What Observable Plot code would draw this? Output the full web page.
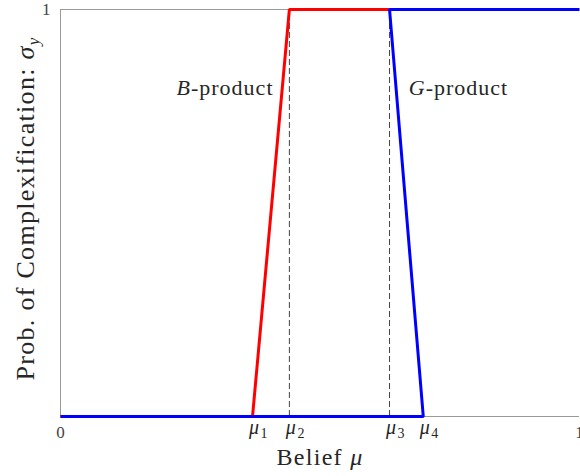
<!DOCTYPE html>
<html>
<head>
<meta charset="utf-8">
<script src="https://cdn.jsdelivr.net/npm/d3@7"></script>
<script src="https://cdn.jsdelivr.net/npm/@observablehq/plot@0.6"></script>
<style>
  html, body { margin: 0; padding: 0; background: white; overflow: hidden; }
</style>
</head>
<body>
<div id="chart"></div>
<script>
// ---- data ----
const muValues = [0.370, 0.441, 0.634, 0.699];
const muSubs = ["1", "2", "3", "4"];
const bProductX = [0, 0.370, 0.441, 0.634];
const bProductY = [0, 0, 1, 1];
const gProductX = [0, 0.699, 0.634, 1];
const gProductY = [0, 0, 1, 1];
const dashedAt = [0.441, 0.634];
const xTickValues = [0, 1];
const xTickLabels = ["0", "1"];
const yTickValues = [1];
const yTickLabels = ["1"];
const bLabel = "B-product";
const gLabel = "G-product";
const bLabelPos = [0.4104, 0.7887];
const gLabelPos = [0.671, 0.7887];
const xLabel = "Belief μ";
const yLabel = "Prob. of Complexification: σy";

const bData = bProductX.map((x, i) => ({x, y: bProductY[i]}));
const gData = gProductX.map((x, i) => ({x, y: gProductY[i]}));
const xTicks = xTickValues.map((v, i) => ({v, t: xTickLabels[i]}));
const yTicks = yTickValues.map((v, i) => ({v, t: yTickLabels[i]}));
const mus = muValues.map((v, i) => ({v, s: muSubs[i]}));

const font = "'Liberation Serif', serif";
const textColor = "#262626";
const axisGray = "#9a9a9a";

const chart = Plot.plot({
  width: 580,
  height: 476,
  marginLeft: 60,
  marginRight: 1,
  marginTop: 9,
  marginBottom: 60,
  x: {domain: [0, 1], axis: null},
  y: {domain: [0, 1], axis: null},
  style: {fontFamily: font, background: "white", overflow: "visible"},
  marks: [
    Plot.ruleX([0], {stroke: axisGray, strokeWidth: 1}),
    Plot.ruleY([0, 1], {stroke: axisGray, strokeWidth: 1}),
    Plot.ruleX(dashedAt, {y1: 0, y2: 1, stroke: "#444", strokeWidth: 1, strokeDasharray: "6,3"}),
    Plot.line(bData, {x: "x", y: "y", stroke: "#ff0000", strokeWidth: 3, strokeLinecap: "butt", strokeLinejoin: "miter"}),
    Plot.line(gData, {x: "x", y: "y", stroke: "#0000ff", strokeWidth: 3, strokeLinecap: "butt", strokeLinejoin: "miter"}),
    Plot.text(xTicks, {x: "v", y: 0, text: "t", dy: 21, lineAnchor: "bottom", fontSize: 17, fill: "#444"}),
    Plot.text(yTicks, {x: 0, y: "v", text: "t", dx: -10, lineAnchor: "middle", textAnchor: "end", fontSize: 17, fill: "#444"}),
    Plot.text(mus, {x: "v", y: 0, text: () => "μ", dx: 1.5, dy: 17, lineAnchor: "bottom", fontSize: 20, fontStyle: "italic", fill: textColor}),
    Plot.text(mus, {x: "v", y: 0, text: "s", dx: 8, dy: 21, lineAnchor: "bottom", textAnchor: "start", fontSize: 14, fill: textColor}),
    Plot.text([bLabel], {x: bLabelPos[0], y: bLabelPos[1], text: d => d, textAnchor: "end", lineAnchor: "bottom", fontSize: 22, fill: textColor, className: "series-label"}),
    Plot.text([gLabel], {x: gLabelPos[0], y: gLabelPos[1], text: d => d, textAnchor: "start", lineAnchor: "bottom", fontSize: 22, fill: textColor, className: "series-label"}),
    Plot.text([xLabel], {x: 0.5, y: 0, text: d => d, dy: 48, lineAnchor: "bottom", fontSize: 24, fill: textColor, className: "x-label"}),
    Plot.text([yLabel], {x: 0, y: 0.511, text: d => d, dx: -35, rotate: -90, lineAnchor: "middle", fontSize: 26, fill: textColor, className: "y-label"})
  ]
});

document.getElementById("chart").appendChild(chart);

// ---- rich text post-processing (italic math letters, subscripts) ----
const svg = d3.select(chart);
svg.selectAll(".series-label text").each(function() {
  const s = this.textContent;
  const el = d3.select(this).style("letter-spacing", "1px");
  el.text(null);
  el.append("tspan").attr("font-style", "italic").text(s.slice(0, 1));
  el.append("tspan").text(s.slice(1));
});
svg.selectAll(".x-label text").each(function() {
  const s = this.textContent;
  const el = d3.select(this).style("letter-spacing", "1.3px");
  el.text(null);
  el.append("tspan").text(s.slice(0, -1));
  el.append("tspan").attr("font-style", "italic").text(s.slice(-1));
});
svg.selectAll(".y-label text").each(function() {
  const s = this.textContent;
  const el = d3.select(this).style("letter-spacing", "1.3px");
  el.text(null);
  el.append("tspan").text(s.slice(0, -2));
  el.append("tspan").attr("font-style", "italic").text(s.slice(-2, -1));
  el.append("tspan").attr("font-style", "italic").attr("font-size", "17").attr("dy", "0.3em").text(s.slice(-1));
});
</script>
</body>
</html>
